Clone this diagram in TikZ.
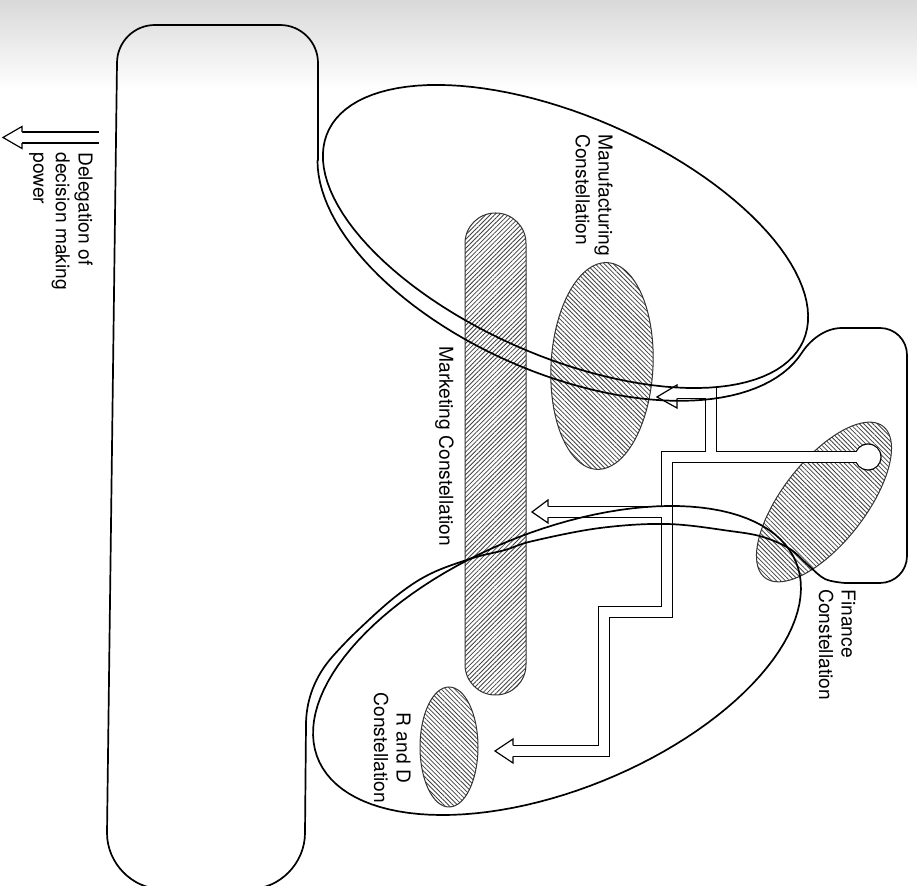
\documentclass[tikz,border=0pt]{standalone}
\usepackage{fontspec}
\setmainfont{TeX Gyre Heros}
\usetikzlibrary{patterns.meta}

\tikzset{
  outline/.style={line width=0.85pt, line join=round},
  hatchNE/.style={pattern={Lines[angle=45,distance=1.6pt,line width=0.4pt]},
    pattern color=black!75, draw=black!80, line width=0.5pt},
  hatchNW/.style={pattern={Lines[angle=-45,distance=1.6pt,line width=0.4pt]},
    pattern color=black!75, draw=black!80, line width=0.5pt},
  pipeedge/.style={line width=6.1pt, line join=miter, line cap=butt},
  pipecore/.style={white, line width=4.9pt, line join=miter, line cap=butt},
  headline/.style={line width=0.6pt, line join=miter},
  lbl/.style={rotate=-90, inner sep=0pt, align=left, font=\fontsize{9.6}{11.3}\selectfont},
}

\begin{document}
\begin{tikzpicture}[x=0.5pt, y=-0.5pt]
  \useasboundingbox (0,0) rectangle (917,886);
  \shade[top color=black!15, bottom color=white] (0,0) rectangle (917,90);

  % hatched constellations
  \path[hatchNE, rounded corners=15.2pt] (465,213) rectangle (526,695);
  \path[hatchNW] plot[domain=0:360, samples=90, variable=\t]
    ({602+51*cos(\t)*cos(3)+103.5*sin(\t)*sin(3)}, {366+51*cos(\t)*sin(3)-103.5*sin(\t)*cos(3)}) -- cycle;
  \path[hatchNW] (449,747) ellipse [x radius=29, y radius=60];
  \path[hatchNW] plot[domain=0:360, samples=90, variable=\t]
    ({824+96*cos(\t)*cos(52)+41.5*sin(\t)*sin(52)}, {502-96*cos(\t)*sin(52)+41.5*sin(\t)*cos(52)}) -- cycle;

  % delegation pipes
  \coordinate (hub) at (868,457);
  \coordinate (mfgEnd) at (677,393);
  \coordinate (mktEnd) at (548,512);
  \coordinate (rdEnd) at (513,751);
  \coordinate (delegStart) at (99,137.5);
  \coordinate (delegEnd) at (22,137.5);
  \draw[pipeedge] (hub) -- (667,457) -- (667,612) -- (604,612) -- (604,751) -- (rdEnd);
  \draw[pipeedge] (711,457) -- (711,393) -- (mfgEnd);
  \draw[pipeedge] (667,512) -- (mktEnd);
  \draw[pipeedge] (delegStart) -- (delegEnd);
  \fill (hub) circle (13.6);
  \draw[pipecore] (hub) -- (667,457) -- (667,612) -- (604,612) -- (604,751) -- (rdEnd);
  \draw[pipecore] (711,457) -- (711,393) -- (mfgEnd);
  \draw[pipecore] (667,512) -- (mktEnd);
  \draw[pipecore] (delegStart) -- (delegEnd);
  \fill[white] (hub) circle (12.4);
  \foreach \b/\t/\c/\p/\u/\l in {22/3/137.5/137.5/126.5/148.5, 677/657/397/393/385/408,
      548/532/512/512/500/523, 513/495/751/751/739/763}
  {
    \fill[white] (\b,\u) -- (\t,\c) -- (\b,\l) -- cycle;
    \draw[headline] (\b,\p-5.5) -- (\b,\u) -- (\t,\c) -- (\b,\l) -- (\b,\p+5.5);
  }

  % organisation outline
  \draw[outline] (306,725) -- (305,833) .. controls (305,863) and (280,889) .. (250,889)
    -- (162,889) .. controls (132,889) and (107,863) .. (107,833)
    -- (117,63) .. controls (117,42) and (134,25) .. (155,25)
    -- (280,25) .. controls (301,25) and (318,42) .. (318,63) -- (318,160)
    -- plot[domain=167.2:5, samples=60, variable=\t]
      ({565.5+264*cos(\t)*0.916-137*sin(\t)*0.402}, {236.5+264*cos(\t)*0.402+137*sin(\t)*0.916})
    .. controls (810,340) and (825,328) .. (842,328)
    -- (880,328) .. controls (895,328) and (907,340) .. (907,355)
    -- (907,556) .. controls (907,571) and (895,583) .. (880,583) -- (845,583)
    -- plot[smooth, tension=0.6] coordinates {(845,583) (825,579) (808,565) (790,549) (763,537)
      (730,531) (667,524) (600,528) (533,541) (505,550) (473,558) (430,574) (395,597) (355,633)
      (333,656)}
    .. controls (315,676) and (306,700) .. (306,725)
    -- cycle;
  \draw[outline] plot[domain=0:360, samples=120, variable=\t]
    ({565.5+259.6*cos(\t)*0.916-120*sin(\t)*0.402}, {236.5+259.6*cos(\t)*0.402+120*sin(\t)*0.916}) -- cycle;
  \draw[outline] plot[domain=0:360, samples=120, variable=\t]
    ({557+258.5*cos(\t)*0.9245+128.8*sin(\t)*0.381}, {660.5-258.5*cos(\t)*0.381+128.8*sin(\t)*0.9245}) -- cycle;

  % labels
  \node[lbl, anchor=north west] (mfgLabel) at (613,134) {Manufacturing\\Constellation};
  \node[lbl, anchor=north west] (mktLabel) at (454,346) {Marketing Constellation};
  \node[lbl, anchor=north west] (finLabel) at (856,589) {Finance\\Constellation};
  \node[lbl, anchor=north, align=center] (rdLabel) at (411,748) {R and D\\Constellation};
  \node[lbl, anchor=north west] (delegLabel) at (93,152) {Delegation of\\decision making\\power};
\end{tikzpicture}
\end{document}
